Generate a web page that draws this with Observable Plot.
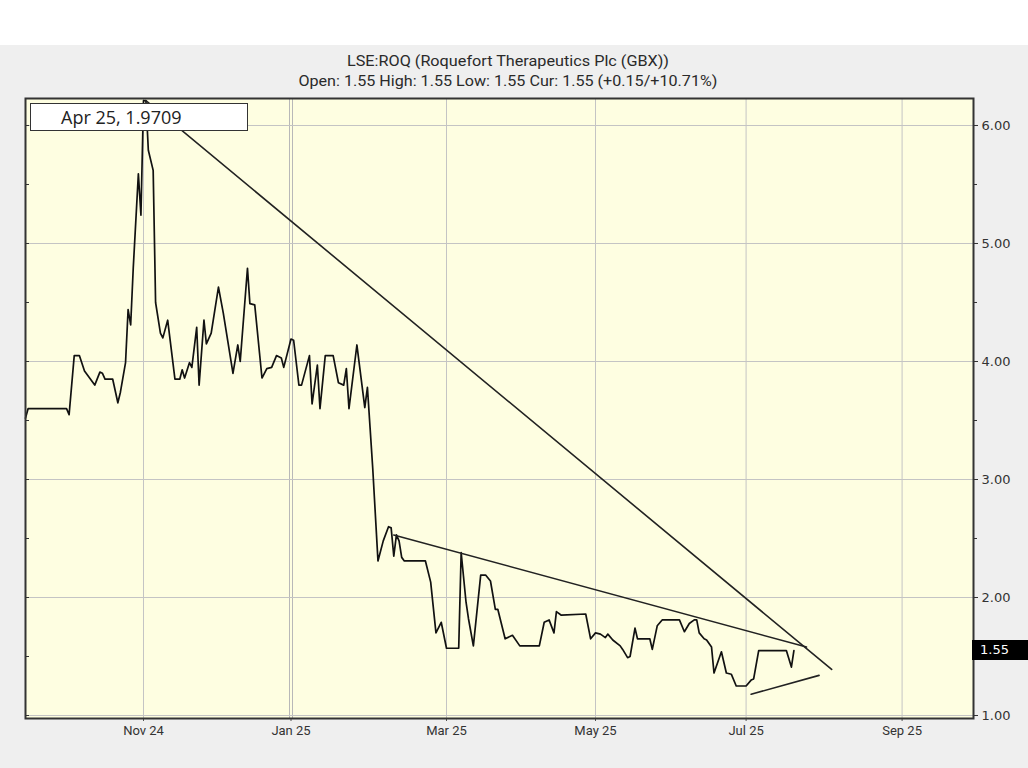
<!DOCTYPE html>
<html><head><meta charset="utf-8">
<script src="https://cdn.jsdelivr.net/npm/d3@7"></script>
<script src="https://cdn.jsdelivr.net/npm/@observablehq/plot@0.6"></script>
<style>
html,body{margin:0;padding:0;background:#fff;width:1028px;height:768px;overflow:hidden;position:relative;font-family:Roboto,sans-serif;}
#panel{position:absolute;left:0;top:45px;width:1028px;height:723px;background:#efefef;}
.title{position:absolute;left:0;width:1016px;text-align:center;font-size:14px;color:#2a2a2a;line-height:18px;white-space:nowrap}
.title span{display:inline-block;transform-origin:center}
#chart{position:absolute;left:0;top:90px}
#tip{position:absolute;left:30px;top:103px;width:186px;height:26px;border:1.5px solid #333;background:#fff;font-family:'Open Sans',sans-serif;font-size:18px;line-height:27px;color:#222;padding-left:30px;white-space:nowrap}
#cur{position:absolute;left:972px;width:48px;height:20px;background:#000;color:#fff;font-family:'DejaVu Sans',sans-serif;font-size:13px;line-height:20px;padding-left:8px}
</style></head><body>
<div id="panel"></div>
<div class="title" style="top:52px"><span id="t1"></span></div>
<div class="title" style="top:72px"><span id="t2"></span></div>
<div id="chart"></div>
<div id="tip"></div>
<div id="cur"></div>
<script>
// ---- data ----
const titleLine1 = "LSE:ROQ (Roquefort Therapeutics Plc (GBX))";
const titleLine2 = "Open: 1.55 High: 1.55 Low: 1.55 Cur: 1.55 (+0.15/+10.71%)";
const tipText = "Apr 25, 1.9709";
const currentValue = 1.55;

const priceDates = [
"2024-09-16","2024-09-17","2024-10-02","2024-10-03","2024-10-05","2024-10-07","2024-10-09","2024-10-13","2024-10-15","2024-10-16",
"2024-10-17","2024-10-20","2024-10-22","2024-10-23","2024-10-25","2024-10-26","2024-10-27","2024-10-28","2024-10-30","2024-10-31",
"2024-11-01","2024-11-02","2024-11-03","2024-11-05","2024-11-06","2024-11-08","2024-11-09","2024-11-11","2024-11-14","2024-11-16",
"2024-11-17","2024-11-18","2024-11-20","2024-11-21","2024-11-23","2024-11-24","2024-11-26","2024-11-27","2024-11-29","2024-12-02",
"2024-12-04","2024-12-08","2024-12-10","2024-12-11","2024-12-14","2024-12-15","2024-12-17","2024-12-20","2024-12-22","2024-12-24",
"2024-12-26","2024-12-28","2024-12-29","2025-01-01","2025-01-02","2025-01-04","2025-01-05","2025-01-08","2025-01-09","2025-01-11",
"2025-01-12","2025-01-14","2025-01-17","2025-01-19","2025-01-21","2025-01-22","2025-01-23","2025-01-26","2025-01-29","2025-01-30",
"2025-01-31","2025-02-01","2025-02-03","2025-02-05","2025-02-07","2025-02-08","2025-02-09","2025-02-10","2025-02-11","2025-02-12",
"2025-02-13","2025-02-21","2025-02-23","2025-02-25","2025-02-27","2025-03-01","2025-03-06","2025-03-07","2025-03-09","2025-03-10",
"2025-03-12","2025-03-15","2025-03-17","2025-03-19","2025-03-21","2025-03-22","2025-03-25","2025-03-28","2025-03-31","2025-04-08",
"2025-04-10","2025-04-12","2025-04-14","2025-04-15","2025-04-17","2025-04-27","2025-04-29","2025-05-01","2025-05-03","2025-05-05",
"2025-05-06","2025-05-08","2025-05-11","2025-05-12","2025-05-14","2025-05-15","2025-05-17","2025-05-18","2025-05-23","2025-05-24",
"2025-05-26","2025-05-28","2025-06-04","2025-06-06","2025-06-08","2025-06-10","2025-06-11","2025-06-12","2025-06-14","2025-06-15",
"2025-06-17","2025-06-18","2025-06-21","2025-06-23","2025-06-25","2025-06-27","2025-07-01","2025-07-03","2025-07-04","2025-07-06",
"2025-07-17","2025-07-19","2025-07-20"
];
const priceValues = [
3.52,3.60,3.60,3.55,4.05,4.05,3.92,3.80,3.91,3.90,
3.85,3.85,3.65,3.74,3.99,4.44,4.31,4.79,5.59,5.24,
6.21,6.21,5.79,5.62,4.50,4.24,4.20,4.35,3.85,3.85,
3.93,3.86,3.99,3.95,4.29,3.80,4.35,4.15,4.24,4.63,
4.41,3.90,4.14,4.00,4.79,4.49,4.48,3.86,3.94,3.95,
4.05,4.03,3.95,4.19,4.18,3.80,3.80,4.05,3.64,3.97,
3.60,4.05,4.05,3.82,3.80,3.94,3.60,4.14,3.61,3.78,
3.44,3.10,2.31,2.48,2.60,2.59,2.35,2.53,2.48,2.34,
2.31,2.31,2.13,1.70,1.79,1.57,1.57,2.38,1.96,1.82,
1.59,2.19,2.19,2.14,1.90,1.90,1.65,1.68,1.59,1.59,
1.79,1.81,1.70,1.88,1.85,1.86,1.65,1.70,1.69,1.66,
1.69,1.64,1.59,1.56,1.49,1.50,1.74,1.65,1.65,1.56,
1.76,1.81,1.81,1.71,1.78,1.81,1.81,1.70,1.65,1.64,
1.58,1.36,1.54,1.36,1.35,1.25,1.25,1.30,1.31,1.55,
1.55,1.41,1.55
];

// trend lines drawn on the chart (start/end pairs)
const trendIds    = ["a","a","b","b","c","c"];
const trendDates  = ["2024-11-02","2025-08-04","2025-02-09","2025-07-25","2025-07-03","2025-07-30"];
const trendValues = [6.21,1.39,2.53,1.58,1.18,1.34];

// axis ticks
const xTickDates = ["2024-11-01","2025-01-01","2025-03-01","2025-05-01","2025-07-01","2025-09-01"];
const yearStart = "2025-01-01";
const yTicks = [1,2,3,4,5,6];
const yMinorTicks = [1.5,2.5,3.5,4.5,5.5];
const yHalfTicks = [1,1.5,2,2.5,3,3.5,4,4.5,5,5.5,6];

// ---- build ----
const parse = s => new Date(s);
const price = priceDates.map((d,i)=>({date: parse(d), value: priceValues[i]}));
const trends = trendDates.map((d,i)=>({id: trendIds[i], date: parse(d), value: trendValues[i]}));
const xTicks = xTickDates.map(parse);
const yStart = parse(yearStart);

const chart = Plot.plot({
  width: 1028, height: 678,
  marginTop: 8, marginBottom: 50, marginLeft: 25, marginRight: 55,
  style: {background: "transparent", fontFamily: "Roboto, sans-serif", fontSize: "13px", color: "#333", overflow: "visible"},
  x: {type: "utc",
      domain: ["2024-09-16","2024-11-01","2025-01-01","2025-03-01","2025-05-01","2025-07-01","2025-09-01","2025-09-29"].map(parse),
      range: [25,143,290.5,446,595,745.6,901.6,973]},
  y: {domain: [0.9746, 6.2288]},
  marks: [
    Plot.frame({fill: "#fefee1", stroke: null}),
    Plot.gridX(xTicks.filter(d => +d !== +yStart), {stroke: "#c4c4c4", strokeOpacity: 1}),
    Plot.ruleX([yStart], {dx: -1.5, stroke: "#b8b8b8"}),
    Plot.ruleX([yStart], {dx: 1.5, stroke: "#b8b8b8"}),
    Plot.gridY(yTicks, {stroke: "#c4c4c4", strokeOpacity: 1}),
    Plot.line(price, {x: "date", y: "value", stroke: "#111", strokeWidth: 1.7}),
    Plot.line(trends, {x: "date", y: "value", z: "id", stroke: "#222", strokeWidth: 1.6}),
    Plot.axisX({ticks: xTicks, tickFormat: d3.utcFormat("%b %y"), tickSize: 3, tickPadding: 4, label: null, stroke: "#555", fill: "#333", fontSize: 13}),
    Plot.axisY({anchor: "right", ticks: yTicks, tickFormat: d => d.toFixed(2), tickSize: 4, tickPadding: 4, label: null, stroke: "#333", fill: "#333", fontFamily: "DejaVu Sans", fontSize: 13}),
    Plot.axisY({anchor: "right", ticks: yMinorTicks, tickFormat: () => "", tickSize: 3, label: null, stroke: "#333"}),
    Plot.axisY({anchor: "left", ticks: yHalfTicks, tickFormat: () => "", tickSize: 4, dx: 4, label: null, stroke: "#333"}),
    Plot.frame({stroke: "#333", strokeWidth: 2})
  ]
});
document.getElementById("chart").appendChild(chart);

document.getElementById("t1").textContent = titleLine1;
document.getElementById("t2").textContent = titleLine2;
document.getElementById("tip").textContent = tipText;
const cur = document.getElementById("cur");
cur.textContent = currentValue.toFixed(2);
cur.style.top = (90 + chart.scale("y").apply(currentValue) - 10) + "px";

function fit(id, w){
  const el = document.getElementById(id);
  el.style.transform = "none";
  const r = el.getBoundingClientRect().width;
  if (r > 0) el.style.transform = `scaleX(${w / r})`;
}
function fitAll(){ fit("t1", 322); fit("t2", 419); }
fitAll();
if (document.fonts && document.fonts.ready) document.fonts.ready.then(fitAll);
</script>
</body></html>
